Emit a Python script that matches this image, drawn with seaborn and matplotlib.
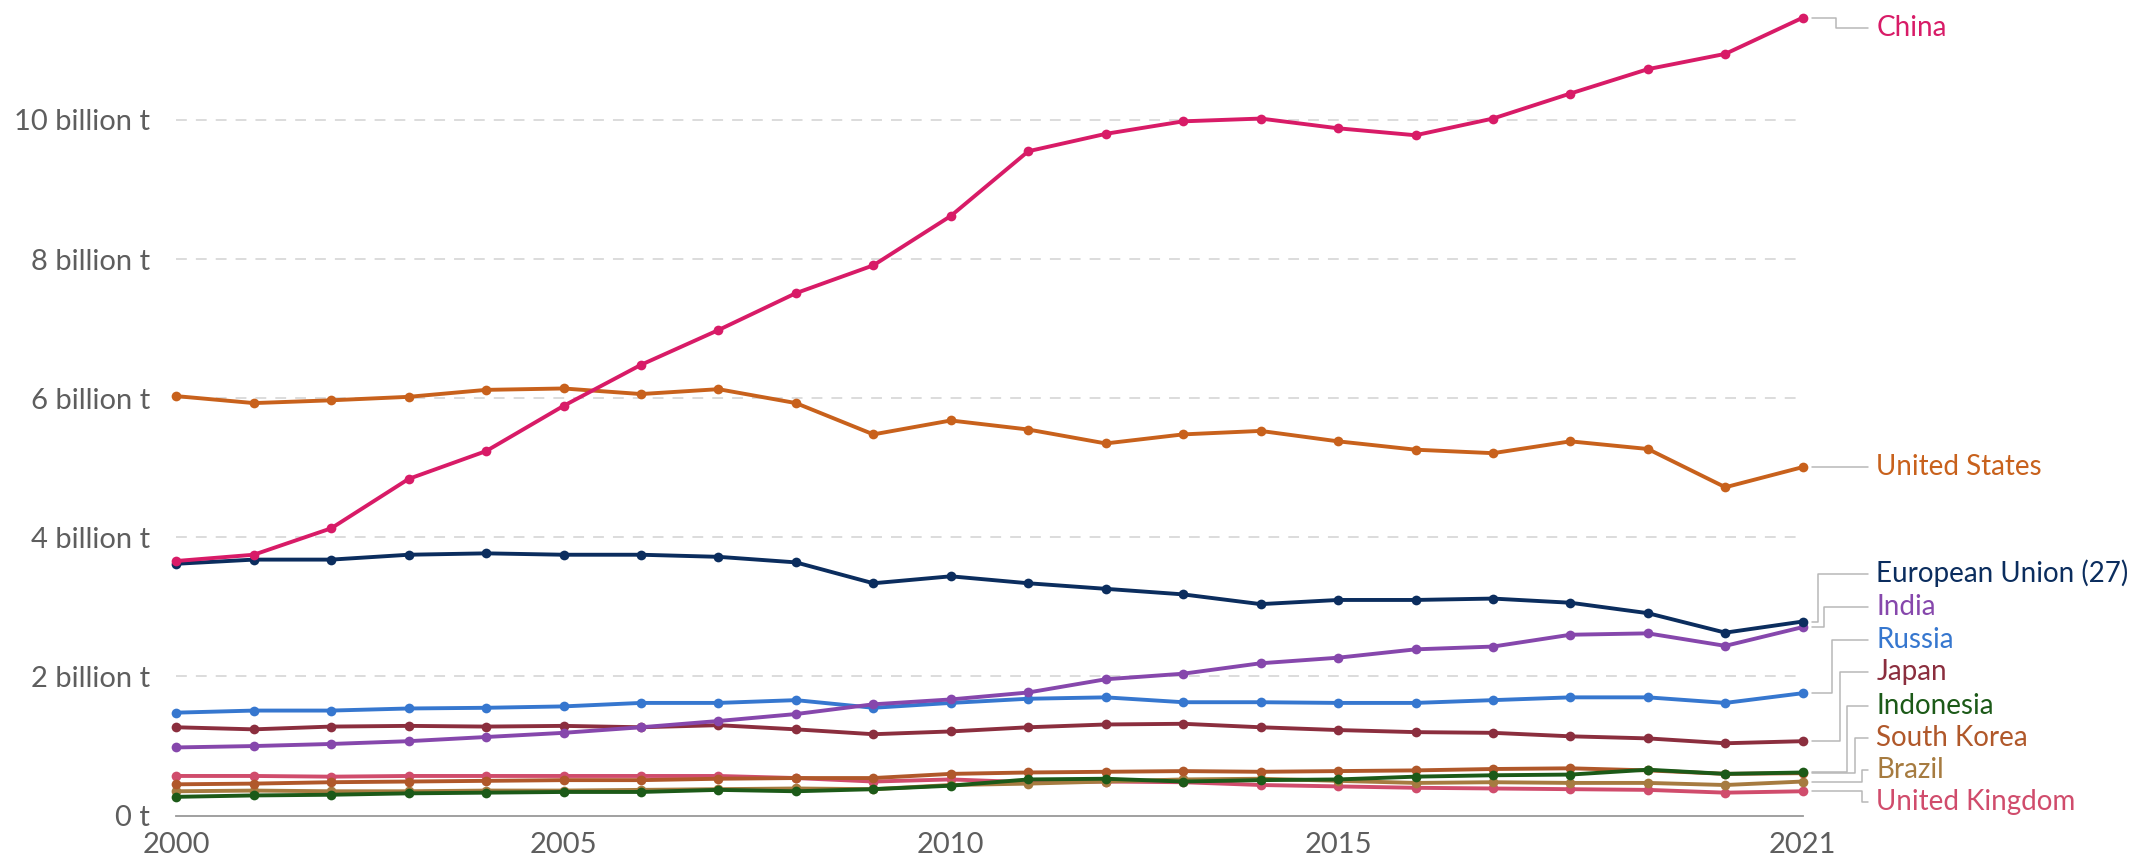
import numpy as np
import pandas as pd
import matplotlib
matplotlib.use("Agg")
import matplotlib.pyplot as plt
import seaborn as sns

# annual CO2 emissions, billion tonnes
years = list(range(2000, 2022))

china = [3.66, 3.75, 4.13, 4.84, 5.24, 5.89, 6.48, 6.98, 7.51, 7.91, 8.62,
         9.55, 9.80, 9.98, 10.02, 9.88, 9.78, 10.02, 10.38, 10.73, 10.95, 11.47]
united_states = [6.03, 5.93, 5.97, 6.02, 6.12, 6.14, 6.06, 6.13, 5.93, 5.48, 5.68,
                 5.55, 5.35, 5.48, 5.53, 5.38, 5.26, 5.21, 5.38, 5.27, 4.72, 5.01]
eu27 = [3.62, 3.68, 3.68, 3.75, 3.77, 3.75, 3.75, 3.72, 3.64, 3.34, 3.44,
        3.34, 3.26, 3.18, 3.04, 3.10, 3.10, 3.12, 3.06, 2.91, 2.63, 2.79]
india = [0.98, 1.00, 1.03, 1.07, 1.13, 1.19, 1.27, 1.36, 1.46, 1.60, 1.67,
         1.77, 1.96, 2.04, 2.19, 2.27, 2.39, 2.43, 2.60, 2.62, 2.44, 2.71]
russia = [1.48, 1.51, 1.51, 1.54, 1.55, 1.57, 1.62, 1.62, 1.66, 1.55, 1.62,
          1.68, 1.70, 1.63, 1.63, 1.62, 1.62, 1.66, 1.70, 1.70, 1.62, 1.76]
japan = [1.27, 1.24, 1.28, 1.29, 1.28, 1.29, 1.27, 1.30, 1.24, 1.17, 1.21,
         1.27, 1.31, 1.32, 1.27, 1.23, 1.20, 1.19, 1.14, 1.11, 1.04, 1.07]
indonesia = [0.27, 0.29, 0.30, 0.32, 0.33, 0.34, 0.34, 0.37, 0.35, 0.38, 0.43,
             0.52, 0.53, 0.49, 0.51, 0.52, 0.56, 0.58, 0.59, 0.66, 0.60, 0.62]
south_korea = [0.45, 0.46, 0.48, 0.49, 0.50, 0.51, 0.51, 0.53, 0.54, 0.54, 0.60,
               0.62, 0.63, 0.64, 0.63, 0.64, 0.65, 0.67, 0.68, 0.65, 0.60, 0.61]
brazil = [0.35, 0.36, 0.35, 0.35, 0.36, 0.36, 0.37, 0.38, 0.39, 0.38, 0.44,
          0.46, 0.49, 0.52, 0.53, 0.50, 0.47, 0.48, 0.47, 0.47, 0.44, 0.49]
united_kingdom = [0.57, 0.57, 0.56, 0.57, 0.57, 0.57, 0.57, 0.57, 0.54, 0.49, 0.52,
                  0.48, 0.49, 0.48, 0.44, 0.42, 0.40, 0.39, 0.38, 0.37, 0.33, 0.35]

series = {
    "United Kingdom": united_kingdom,
    "Brazil": brazil,
    "South Korea": south_korea,
    "Indonesia": indonesia,
    "Japan": japan,
    "Russia": russia,
    "India": india,
    "European Union (27)": eu27,
    "United States": united_states,
    "China": china,
}

colors = {
    "China": "#D81B67",
    "United States": "#C8611C",
    "European Union (27)": "#0B2D5E",
    "India": "#8647AC",
    "Russia": "#3677CF",
    "Japan": "#8B2E3E",
    "Indonesia": "#1C5A18",
    "South Korea": "#B0582A",
    "Brazil": "#A67B40",
    "United Kingdom": "#D04C6C",
}

# label placement on the right (y in data units) and elbow position of connector
label_y = {
    "China": 11.32, "United States": 5.01, "European Union (27)": 3.48,
    "India": 3.00, "Russia": 2.53, "Japan": 2.06, "Indonesia": 1.58,
    "South Korea": 1.11, "Brazil": 0.65, "United Kingdom": 0.20,
}
elbow = {
    "China": 0.45, "United States": 0.5, "European Union (27)": 0.21,
    "India": 0.29, "Russia": 0.40, "Japan": 0.50, "Indonesia": 0.60,
    "South Korea": 0.71, "Brazil": 0.81, "United Kingdom": 0.81,
}

df = pd.concat(
    [pd.DataFrame({"year": years, "value": v, "country": k}) for k, v in series.items()],
    ignore_index=True,
)

sns.set_style("white")
plt.rcParams["font.family"] = ["Lato", "DejaVu Sans"]

fig = plt.figure(figsize=(21.5, 8.64), dpi=100)
ax = fig.add_axes([0.082, 0.056, 0.7565, 0.934])

# gridlines first
for gy in [2, 4, 6, 8, 10]:
    ax.axhline(gy, color="#d9d9d9", lw=1.3, ls=(0, (6, 5)), zorder=0)

sns.lineplot(data=df, x="year", y="value", hue="country",
             hue_order=list(series.keys()), palette=colors,
             marker="o", markersize=7, markeredgewidth=0,
             lw=2.8, legend=False, ax=ax)
for ln in ax.lines:
    ln.set_clip_on(False)

ax.set_xlim(2000, 2021)
ax.set_ylim(0, 11.6)
ax.set_xlabel("")
ax.set_ylabel("")

ax.set_xticks([2000, 2005, 2010, 2015, 2021])
ax.set_yticks([0, 2, 4, 6, 8, 10])
ax.set_yticklabels(["0 t"] + [f"{v} billion t" for v in [2, 4, 6, 8, 10]])
ax.tick_params(axis="x", direction="out", length=9, width=1.3, color="#999999",
               labelsize=21, labelcolor="#5e5e5e", pad=3)
ax.tick_params(axis="y", length=0, labelsize=21, labelcolor="#5e5e5e", pad=19)

for s in ["top", "right", "left"]:
    ax.spines[s].set_visible(False)
ax.spines["bottom"].set_color("#999999")
ax.spines["bottom"].set_linewidth(1.3)

# right-hand labels with elbow connectors
gap = 0.95
x0 = 2021 + 0.13 * gap
x1 = 2021 + 0.88 * gap
for name, vals in series.items():
    y_end = vals[-1]
    ly = label_y[name]
    xm = 2021 + elbow[name] * gap
    if abs(ly - y_end) < 0.05:
        ax.plot([x0, x1], [y_end, y_end], color="#b8b8b8", lw=1.1, clip_on=False)
    else:
        ax.plot([x0, xm, xm, x1], [y_end, y_end, ly, ly],
                color="#b8b8b8", lw=1.1, clip_on=False)
    ax.text(2021 + gap, ly, name, color=colors[name], fontsize=20,
            va="center", ha="left", clip_on=False)

fig.savefig("out.png", dpi=100)
